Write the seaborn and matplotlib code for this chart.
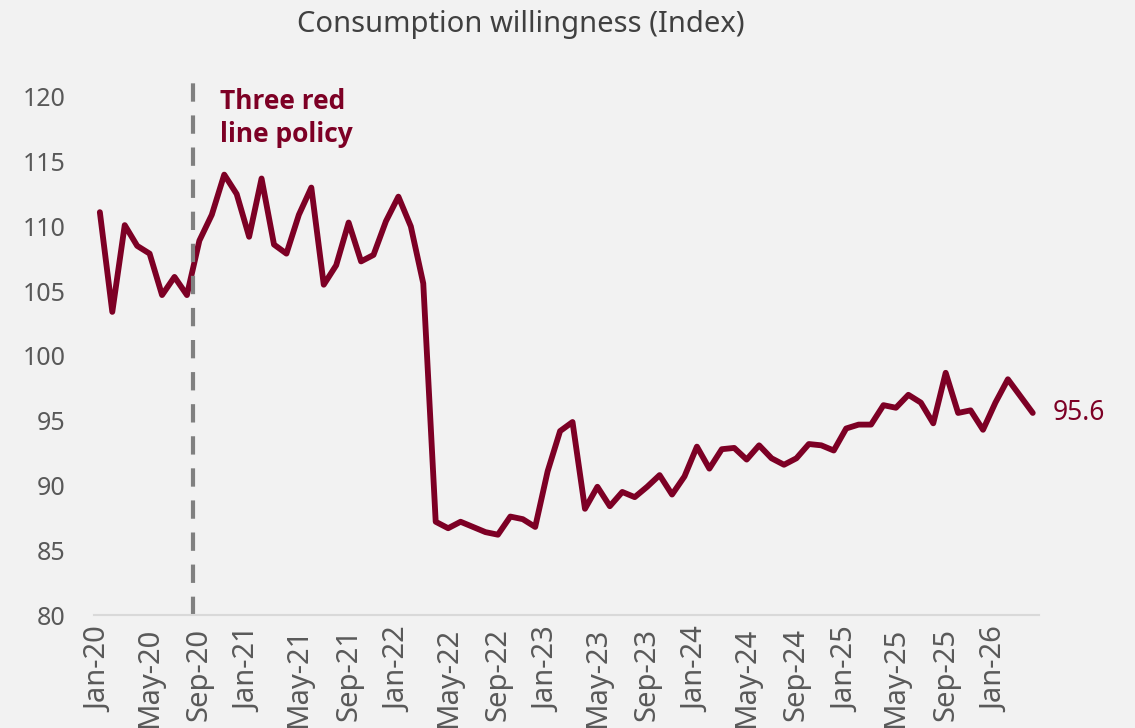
import numpy as np
import pandas as pd
import matplotlib
matplotlib.use("Agg")
import matplotlib.pyplot as plt
import seaborn as sns

# monthly index, Jan-20 .. Apr-26
months = pd.date_range("2020-01-01", periods=76, freq="MS").strftime("%b-%y").tolist()
values = [
    111.1, 103.4, 110.1, 108.5, 107.9, 104.7, 106.1, 104.7, 108.9, 110.9,
    114.0, 112.5, 109.2, 113.7, 108.6, 107.9, 110.9, 113.0, 105.5, 107.0,
    110.3, 107.3, 107.8, 110.4, 112.3, 110.0, 105.6, 87.2, 86.7, 87.2,
    86.8, 86.4, 86.2, 87.6, 87.4, 86.8, 91.1, 94.2, 94.9, 88.2,
    89.9, 88.4, 89.5, 89.1, 89.9, 90.8, 89.3, 90.7, 93.0, 91.3,
    92.8, 92.9, 92.0, 93.1, 92.1, 91.6, 92.1, 93.2, 93.1, 92.7,
    94.4, 94.7, 94.7, 96.2, 96.0, 97.0, 96.4, 94.8, 98.7, 95.6,
    95.8, 94.3, 96.4, 98.2, 96.9, 95.6,
]
y_ticks = [80, 85, 90, 95, 100, 105, 110, 115, 120]
policy_month = "Sep-20"
policy_label = "Three red\nline policy"
title = "Consumption willingness (Index)"

df = pd.DataFrame({"pos": np.arange(len(months)), "month": months, "value": values})

BG = "#f2f2f2"
RED = "#7d0025"
GREY_TXT = "#595959"

sns.set_style("white", {"axes.facecolor": BG, "figure.facecolor": BG})
plt.rcParams["font.family"] = ["Noto Sans", "DejaVu Sans"]

fig = plt.figure(figsize=(11.35, 7.28), dpi=100)
ax = fig.add_axes([0.0825, 0.1552, 0.8329, 0.7473])

sns.lineplot(data=df, x="pos", y="value", color=RED, linewidth=4.2, ax=ax)

# policy marker sits on the boundary before Sep-20
px = months.index(policy_month) - 0.5
ax.axvline(px, color="#808080", linewidth=3, linestyle=(0, (4.4, 3.3)))
ax.text(px + 2.15, 120.7, policy_label, color=RED, fontsize=19, fontweight="bold",
        family=["Open Sans", "DejaVu Sans"], va="top", ha="left", linespacing=1.3)

# last value label
ax.text(df["pos"].iloc[-1] + 1.6, values[-1], f"{values[-1]:.1f}", color=RED,
        fontsize=19, va="center", ha="left", clip_on=False)

ax.set_xlim(-0.5, len(months) - 0.5)
ax.set_ylim(80, 122)
ax.set_yticks(y_ticks)
ax.set_xticks(df["pos"][::4])
ax.set_xticklabels(df["month"][::4], rotation=90)
ax.set_xticks(np.arange(-0.5, len(months), 4), minor=True)
ax.tick_params(axis="x", which="major", length=0, pad=9, labelsize=21, labelcolor=GREY_TXT)
ax.tick_params(axis="x", which="minor", length=8, width=1.2, color="#d9d9d9", direction="out")
ax.tick_params(axis="y", length=0, pad=20, labelsize=18, labelcolor=GREY_TXT)

for s in ["top", "right", "left"]:
    ax.spines[s].set_visible(False)
ax.spines["bottom"].set_color("#d9d9d9")
ax.spines["bottom"].set_linewidth(1.5)
ax.set_xlabel("")
ax.set_ylabel("")

fig.text(0.459, 0.966, title, ha="center", va="center", fontsize=21, color="#404040")

fig.savefig("out.png", dpi=100, facecolor=BG)
